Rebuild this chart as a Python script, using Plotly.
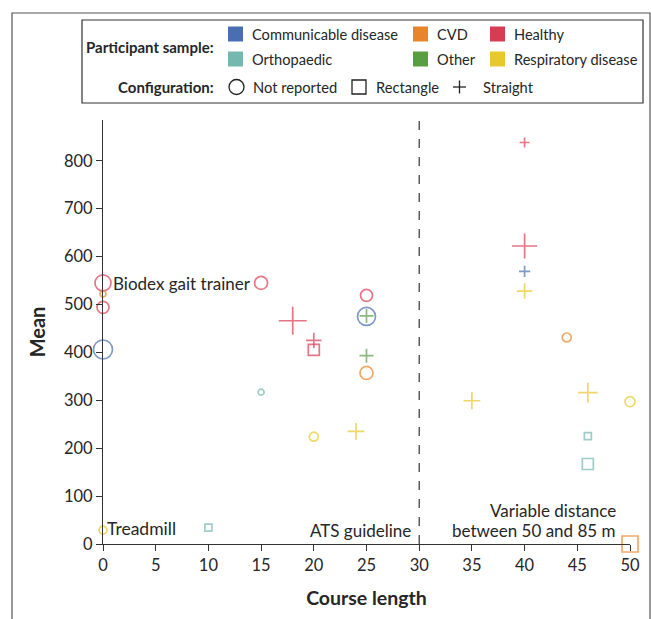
import plotly.graph_objects as go

# ---------------- data ----------------
course_length = [0, 0, 0, 0, 0, 10, 15, 15, 18, 20, 20, 20, 24, 25, 25, 25, 25, 25,
                 35, 40, 40, 40, 40, 44, 46, 46, 46, 50, 50]
mean_value = [545, 522, 494, 406, 29, 34, 317, 545, 466, 425, 405, 224, 235, 519, 475, 476,
              393, 357, 299, 838, 622, 569, 528, 431, 316, 225, 167, 297, 0]
sample = ["Healthy", "CVD", "Healthy", "Communicable disease", "Respiratory disease",
          "Orthopaedic", "Orthopaedic", "Healthy", "Healthy", "Healthy", "Healthy",
          "Respiratory disease", "Respiratory disease", "Healthy", "Communicable disease",
          "Other", "Other", "CVD", "Respiratory disease", "Healthy", "Healthy",
          "Communicable disease", "Respiratory disease", "CVD", "Respiratory disease",
          "Orthopaedic", "Orthopaedic", "Respiratory disease", "CVD"]
config = ["Not reported", "Not reported", "Not reported", "Not reported", "Not reported",
          "Rectangle", "Not reported", "Not reported", "Straight", "Straight", "Rectangle",
          "Not reported", "Straight", "Not reported", "Not reported", "Straight", "Straight",
          "Not reported", "Straight", "Straight", "Straight", "Straight", "Straight",
          "Not reported", "Straight", "Rectangle", "Rectangle", "Not reported", "Rectangle"]
marker_size = [16, 6, 12, 19, 8, 7, 6, 13, 20, 11, 11, 9, 12, 12, 18, 10, 10, 13, 12, 7, 18,
               8, 11, 9, 14, 7, 11, 10, 16]

groups = ["Communicable disease", "CVD", "Healthy", "Orthopaedic", "Other", "Respiratory disease"]
configs = ["Not reported", "Rectangle", "Straight"]

group_colors = {"Communicable disease": "#4A6FB0", "CVD": "#E8842A", "Healthy": "#D83C52",
                "Orthopaedic": "#76B7AF", "Other": "#5A9E42", "Respiratory disease": "#E8C82A"}
config_symbols = {"Not reported": "circle-open", "Rectangle": "square-open",
                  "Straight": "cross-thin-open"}

x_ticks = [0, 5, 10, 15, 20, 25, 30, 35, 40, 45, 50]
y_ticks = [0, 100, 200, 300, 400, 500, 600, 700, 800]

# ---------------- layout helpers ----------------
W, H = 651, 619
L, R, T, B = 103, 21, 120, 75
PW, PH = W - L - R, H - T - B


def px(xp):
    return (xp - L) / PW


def py(yp):
    return (H - B - yp) / PH


FONT = "Lato"
TXT = "#262626"

fig = go.Figure()
fig.add_trace(go.Scatter(
    x=course_length, y=mean_value, mode="markers", cliponaxis=False,
    marker=dict(color=[group_colors[s] for s in sample],
                symbol=[config_symbols[c] for c in config],
                size=marker_size, line=dict(width=1.7)),
    showlegend=False, hoverinfo="x+y"))

shapes = []
annotations = []

# dashed ATS guideline
shapes.append(dict(type="line", xref="x", yref="paper", x0=30, x1=30, y0=0, y1=1,
                   line=dict(color="#333", width=1.2, dash="dash")))

# outer frame
shapes.append(dict(type="rect", xref="paper", yref="paper", x0=px(12), x1=px(650),
                   y0=py(640), y1=py(13), line=dict(color="#555", width=1.2)))
# legend box
shapes.append(dict(type="rect", xref="paper", yref="paper", x0=px(82), x1=px(643),
                   y0=py(103), y1=py(20), line=dict(color="#333", width=1.2),
                   fillcolor="white"))


def ann(text, x, y, xanchor="left", size=17, bold=False):
    annotations.append(dict(text=f"<b>{text}</b>" if bold else text, x=px(x), y=py(y),
                            xref="paper", yref="paper", xanchor=xanchor, yanchor="middle",
                            showarrow=False, font=dict(family=FONT, size=size, color=TXT)))


ann("Biodex gait trainer", 111, 283)
ann("Treadmill", 105, 528, size=17.5)
ann("ATS guideline", 413, 530, xanchor="right")
ann("Variable distance", 618, 510, xanchor="right")
ann("between 50 and 85 m", 618, 530, xanchor="right")

# legend content
ann("Participant sample:", 216, 47, xanchor="right", size=15, bold=True)
ann("Configuration:", 216, 87, xanchor="right", size=15, bold=True)

legend_pos = {"Communicable disease": (228, 34), "CVD": (413, 34), "Healthy": (490, 34),
              "Orthopaedic": (228, 59), "Other": (413, 59), "Respiratory disease": (490, 59)}
for g in groups:
    sx, sy = legend_pos[g]
    shapes.append(dict(type="rect", xref="paper", yref="paper", x0=px(sx), x1=px(sx + 15),
                       y0=py(sy + 7.5), y1=py(sy - 7.5), fillcolor=group_colors[g],
                       line=dict(width=0)))
    ann(g, sx + 21.5, sy, size=14.6)

# configuration symbols drawn as shapes
lk = dict(color="#222", width=1.3)
shapes.append(dict(type="circle", xref="paper", yref="paper", x0=px(229), x1=px(244),
                   y0=py(94.5), y1=py(79.5), line=lk))
shapes.append(dict(type="rect", xref="paper", yref="paper", x0=px(352), x1=px(366),
                   y0=py(94), y1=py(80), line=lk))
shapes.append(dict(type="line", xref="paper", yref="paper", x0=px(453), x1=px(466),
                   y0=py(87), y1=py(87), line=lk))
shapes.append(dict(type="line", xref="paper", yref="paper", x0=px(459.5), x1=px(459.5),
                   y0=py(93.5), y1=py(80.5), line=lk))
ann("Not reported", 251, 87, size=14.7)
ann("Rectangle", 374, 87, size=14.7)
ann("Straight", 481, 87, size=14.7)

fig.update_layout(
    width=W, height=H, margin=dict(l=L, r=R, t=T, b=B, autoexpand=False),
    plot_bgcolor="white", paper_bgcolor="white",
    font=dict(family=FONT, size=16, color=TXT),
    shapes=shapes, annotations=annotations,
    xaxis=dict(range=[0, 50], tickvals=x_ticks, ticks="outside", ticklen=6,
               tickcolor="#333", showline=True, linecolor="#333", linewidth=1.2,
               showgrid=False, zeroline=False, tickfont=dict(size=16.5, color=TXT),
               title=dict(text="<b>Course length</b>", font=dict(size=19.5, color=TXT),
                          standoff=17)),
    yaxis=dict(range=[0, 885], tickvals=y_ticks, ticks="outside", ticklen=6,
               tickcolor="#333", showline=True, linecolor="#333", linewidth=1.2,
               showgrid=False, zeroline=False, tickfont=dict(size=16.5, color=TXT),
               title=dict(text="<b>Mean</b>", font=dict(size=20, color=TXT), standoff=12)),
)

fig.write_html("out.html", config={"displayModeBar": False},
               post_script="document.body.style.margin='0px';")
